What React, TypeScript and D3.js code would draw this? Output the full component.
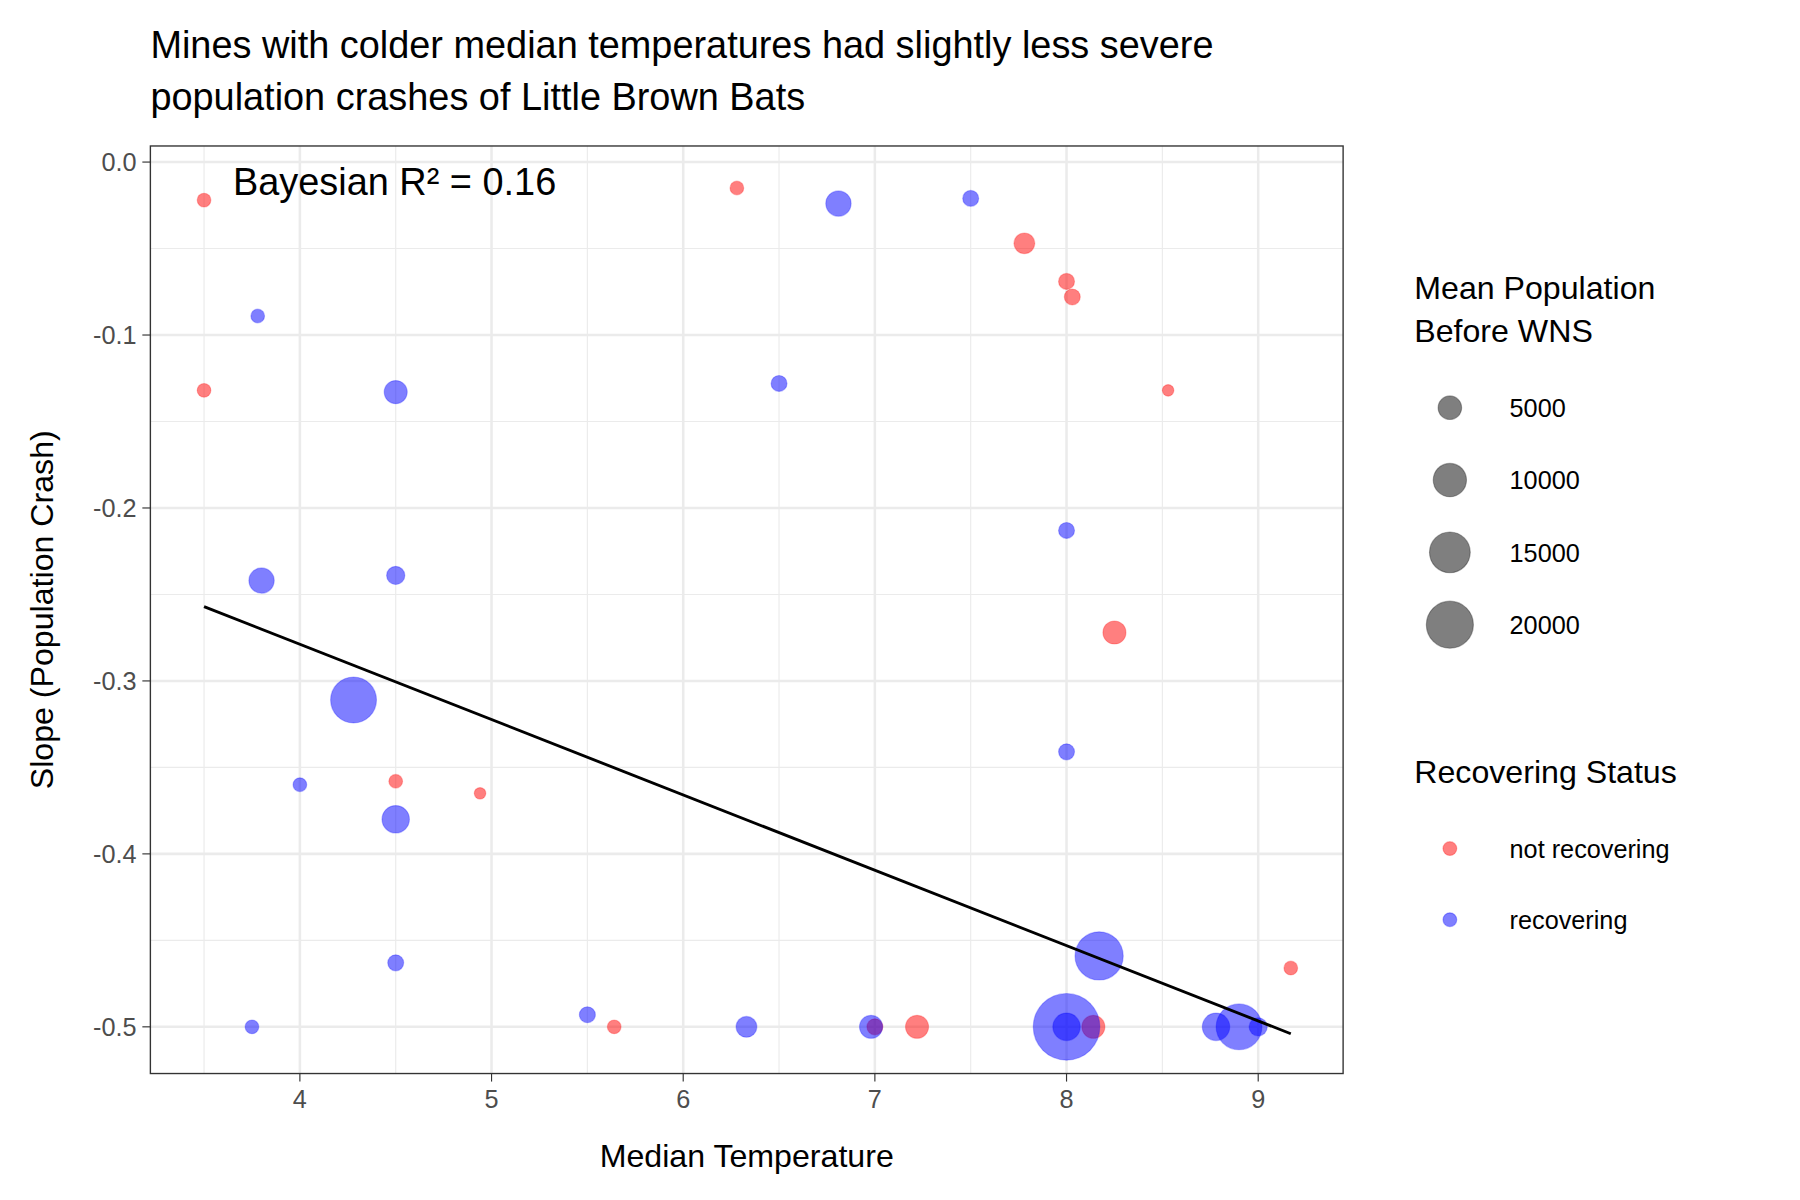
import React from 'react';
import * as d3 from 'd3';

// median temperature, slope, mean population before WNS, status
const redX = [3.5, 6.28, 7.78, 8.0, 8.03, 3.5, 8.53, 8.25, 4.5, 4.94, 5.64, 7.0, 7.22, 8.14, 9.17];
const redY = [-0.022, -0.015, -0.047, -0.069, -0.078, -0.132, -0.132, -0.272, -0.358, -0.365, -0.5, -0.5, -0.5, -0.5, -0.466];
const redPop = [1700, 1700, 3900, 2300, 2300, 1700, 1200, 4800, 1700, 1200, 1700, 2300, 4800, 4800, 1700];
const blueX = [6.81, 7.5, 3.78, 4.5, 6.5, 8.0, 3.8, 4.5, 4.28, 4.0, 4.5, 8.0, 4.5, 8.17, 3.75, 5.5, 6.33, 6.98, 8.0, 8.0, 8.78, 8.9, 9.0];
const blueY = [-0.024, -0.021, -0.089, -0.133, -0.128, -0.213, -0.242, -0.239, -0.311, -0.36, -0.38, -0.341, -0.463, -0.459, -0.5, -0.493, -0.5, -0.5, -0.5, -0.5, -0.5, -0.5, -0.5];
const bluePop = [5800, 2300, 1700, 4800, 2300, 2300, 5800, 3000, 19000, 1700, 6800, 2300, 2300, 21000, 1700, 2300, 3900, 4800, 40000, 6800, 6800, 19000, 3000];
const fitX = [3.5, 9.17];
const fitY = [-0.257, -0.504];
const xTicks = [4, 5, 6, 7, 8, 9];
const yTicks = [0, -0.1, -0.2, -0.3, -0.4, -0.5];
const sizeBreaks = [5000, 10000, 15000, 20000];

export default function App() {
  const L = 131, R = 1170, T = 127, B = 935;
  const x = d3.scaleLinear().domain([3.22, 9.443]).range([L, R]);
  const y = d3.scaleLinear().domain([0.0093, -0.527]).range([T, B]);
  const r = d3.scaleSqrt().domain([0, 40000]).range([0, 29]);
  const font = 'Arial, "Liberation Sans", sans-serif';
  const xMinor = d3.range(3.5, 9.5, 1);
  const yMinor = d3.range(-0.05, -0.55, -0.1);
  const line = d3.line<number>().x((d) => x(d)).y((_, i) => y(fitY[i]));
  const pts = [
    ...redX.map((v, i) => ({ x: v, y: redY[i], p: redPop[i], c: '#FF0000' })),
    ...blueX.map((v, i) => ({ x: v, y: blueY[i], p: bluePop[i], c: '#0000FF' })),
  ];
  return (
    <svg width={1800} height={1200} viewBox="0 0 1568 1045" style={{ position: 'absolute', left: 0, top: 0 }} fontFamily={font}>
      <rect width={1568} height={1045} fill="#fff" />
      <text x={131} y={50} fontSize={33}>Mines with colder median temperatures had slightly less severe</text>
      <text x={131} y={96} fontSize={33}>population crashes of Little Brown Bats</text>
      {xMinor.map((v) => <line key={'xm' + v} x1={x(v)} x2={x(v)} y1={T} y2={B} stroke="#EBEBEB" strokeWidth={1} />)}
      {yMinor.map((v) => <line key={'ym' + v} y1={y(v)} y2={y(v)} x1={L} x2={R} stroke="#EBEBEB" strokeWidth={1} />)}
      {xTicks.map((v) => <line key={'x' + v} x1={x(v)} x2={x(v)} y1={T} y2={B} stroke="#EBEBEB" strokeWidth={2.2} />)}
      {yTicks.map((v) => <line key={'y' + v} y1={y(v)} y2={y(v)} x1={L} x2={R} stroke="#EBEBEB" strokeWidth={2.2} />)}
      {pts.map((d, i) => <circle key={i} cx={x(d.x)} cy={y(d.y)} r={r(d.p)} fill={d.c} fillOpacity={0.5} stroke={d.c} strokeOpacity={0.25} strokeWidth={1} />)}
      <path d={line(fitX) || ''} stroke="#000" strokeWidth={2.5} fill="none" />
      <text x={203} y={170} fontSize={33}>Bayesian R² = 0.16</text>
      <rect x={L} y={T} width={R - L} height={B - T} fill="none" stroke="#333" strokeWidth={1.2} />
      {xTicks.map((v) => (
        <g key={'xt' + v}>
          <line x1={x(v)} x2={x(v)} y1={B} y2={B + 7} stroke="#333" />
          <text x={x(v)} y={B + 30} fontSize={22} fill="#4D4D4D" textAnchor="middle">{v}</text>
        </g>
      ))}
      {yTicks.map((v) => (
        <g key={'yt' + v}>
          <line x1={L - 7} x2={L} y1={y(v)} y2={y(v)} stroke="#333" />
          <text x={L - 12} y={y(v) + 8} fontSize={22} fill="#4D4D4D" textAnchor="end">{d3.format('.1f')(v).replace('−', '-')}</text>
        </g>
      ))}
      <text x={(L + R) / 2} y={1016} fontSize={28} textAnchor="middle">Median Temperature</text>
      <text transform={`translate(46,${(T + B) / 2}) rotate(-90)`} fontSize={28} textAnchor="middle">Slope (Population Crash)</text>
      <text x={1232} y={260} fontSize={28}>Mean Population</text>
      <text x={1232} y={298} fontSize={28}>Before WNS</text>
      {sizeBreaks.map((v, i) => (
        <g key={'s' + v}>
          <circle cx={1263} cy={355 + i * 63} r={r(v)} fill="#000" fillOpacity={0.5} stroke="#000" strokeOpacity={0.3} />
          <text x={1315} y={363 + i * 63} fontSize={22}>{v}</text>
        </g>
      ))}
      <text x={1232} y={682} fontSize={28}>Recovering Status</text>
      {[['not recovering', '#FF0000'], ['recovering', '#0000FF']].map(([t, c], i) => (
        <g key={t}>
          <circle cx={1263} cy={739 + i * 62} r={6} fill={c} fillOpacity={0.5} stroke={c} strokeOpacity={0.3} />
          <text x={1315} y={747 + i * 62} fontSize={22}>{t}</text>
        </g>
      ))}
    </svg>
  );
}
